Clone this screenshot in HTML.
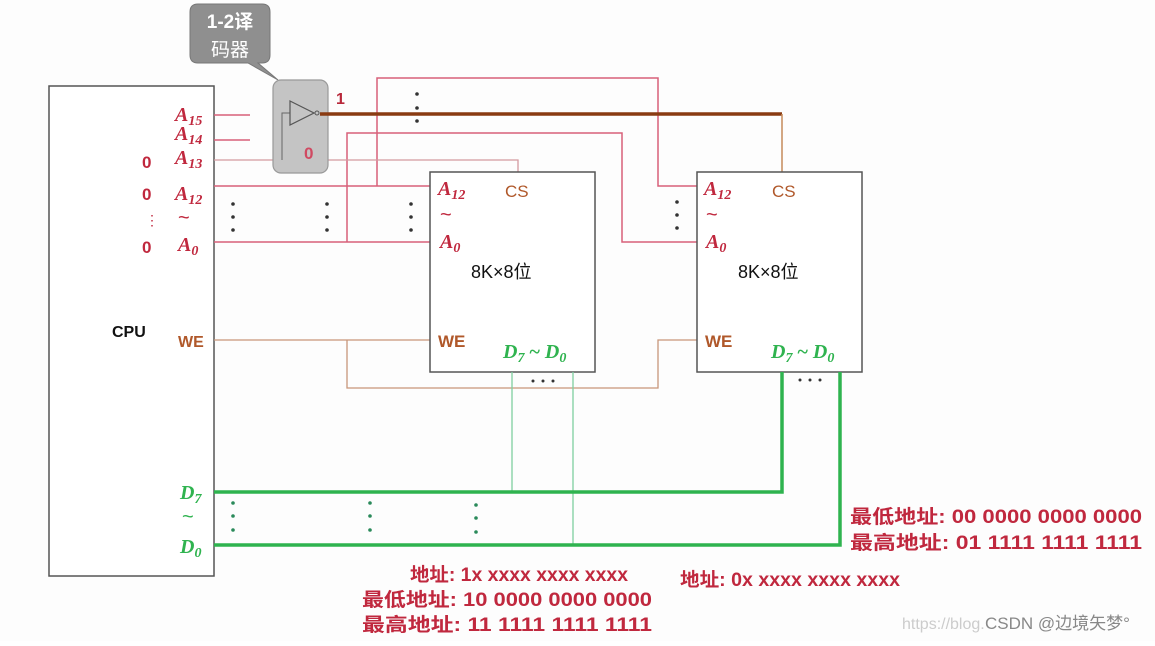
<!DOCTYPE html>
<html><head><meta charset="utf-8"><style>
body{margin:0;background:#fff;}
svg text{font-family:"Liberation Sans","Noto Sans CJK SC",sans-serif;}
.it{font-family:"Liberation Serif","Noto Serif CJK SC",serif;font-style:italic;font-weight:bold;}
</style></head><body>
<svg width="1155" height="641" viewBox="0 0 1155 641" xmlns="http://www.w3.org/2000/svg">
<rect width="1155" height="641" fill="#fdfdfd"/>
<!-- callout -->
<path d="M198 4 H262 Q270 4 270 12 V55 Q270 63 262 63 H258 L278 80 L248 63 H198 Q190 63 190 55 V12 Q190 4 198 4 Z" fill="#8f8f8f" stroke="#777" stroke-width="1"/>
<text x="230" y="28" font-size="19" font-weight="bold" fill="#fff" text-anchor="middle">1-2译</text>
<text x="230" y="56" font-size="19" fill="#fff" text-anchor="middle">码器</text>
<!-- CPU -->
<rect x="49" y="86" width="165" height="490" fill="#fff" stroke="#555" stroke-width="1.5"/>
<text x="112" y="337" font-size="16" font-weight="bold" fill="#111">CPU</text>
<!-- pink address lines -->
<g stroke="#d8607a" stroke-width="1.5" fill="none">
<path d="M214 115 H250"/><path d="M214 140 H250"/>
<path d="M214 186 H430"/><path d="M214 242 H430"/>
<path d="M377 186 V78 H658 V186 H697"/>
<path d="M347 242 V133 H622 V242 H697"/>
</g>
<path d="M214 160 H518 V172" stroke="#d49aa0" stroke-width="1.3" fill="none"/>
<!-- decoder -->
<rect x="273" y="80" width="55" height="93" rx="8" fill="#c4c4c4" stroke="#999" stroke-width="1.2"/>
<path d="M282 160 V113 H290" stroke="#666" stroke-width="1" fill="none"/>
<path d="M290 101 L314 113 L290 125 Z" fill="none" stroke="#555" stroke-width="1.2"/>
<circle cx="317" cy="113" r="2" fill="none" stroke="#555"/>
<text x="336" y="104" font-size="16" font-weight="bold" fill="#b8283a">1</text>
<text x="304" y="159" font-size="17" font-weight="bold" fill="#d04a62">0</text>
<!-- thick brown -->
<path d="M320 114 H782" stroke="#8a3b12" stroke-width="3.5"/>
<path d="M782 114 V172" stroke="#c58a5a" stroke-width="1.5"/>
<!-- WE lines -->
<g stroke="#c8967a" stroke-width="1.3" fill="none">
<path d="M214 340 H430"/>
<path d="M347 340 V388 H658 V340 H697"/>
</g>
<!-- chips -->
<rect x="430" y="172" width="165" height="200" fill="#fff" stroke="#555" stroke-width="1.5"/>
<rect x="697" y="172" width="165" height="200" fill="#fff" stroke="#555" stroke-width="1.5"/>
<!-- green -->
<g stroke="#7fcfa0" stroke-width="1.3"><path d="M512 372 V492"/><path d="M573 372 V545"/></g>
<g stroke="#2fb34f" stroke-width="3.5" fill="none">
<path d="M214 492 H782 V372"/><path d="M214 545 H840 V372"/>
</g>
<!-- dots -->
<g fill="#333">
<circle cx="417" cy="94" r="1.8"/><circle cx="417" cy="108" r="1.8"/><circle cx="417" cy="121" r="1.8"/>
<circle cx="233" cy="204" r="1.8"/><circle cx="233" cy="217" r="1.8"/><circle cx="233" cy="230" r="1.8"/>
<circle cx="327" cy="204" r="1.8"/><circle cx="327" cy="217" r="1.8"/><circle cx="327" cy="230" r="1.8"/>
<circle cx="411" cy="204" r="1.8"/><circle cx="411" cy="217" r="1.8"/><circle cx="411" cy="230" r="1.8"/>
<circle cx="677" cy="202" r="1.8"/><circle cx="677" cy="215" r="1.8"/><circle cx="677" cy="228" r="1.8"/>
<circle cx="533" cy="381" r="1.5"/><circle cx="543" cy="381" r="1.5"/><circle cx="553" cy="381" r="1.5"/>
<circle cx="800" cy="380" r="1.5"/><circle cx="810" cy="380" r="1.5"/><circle cx="820" cy="380" r="1.5"/>
</g>
<g fill="#2a8a5a">
<circle cx="233" cy="503" r="1.8"/><circle cx="233" cy="516" r="1.8"/><circle cx="233" cy="530" r="1.8"/>
<circle cx="370" cy="503" r="1.8"/><circle cx="370" cy="516" r="1.8"/><circle cx="370" cy="530" r="1.8"/>
<circle cx="476" cy="505" r="1.8"/><circle cx="476" cy="518" r="1.8"/><circle cx="476" cy="532" r="1.8"/>
</g>
<!-- CPU pin labels -->
<g fill="#c0283e">
<text class="it" x="175" y="121" font-size="20">A<tspan font-size="14" dy="4">15</tspan></text>
<text class="it" x="175" y="140" font-size="20">A<tspan font-size="14" dy="4">14</tspan></text>
<text class="it" x="175" y="164" font-size="20">A<tspan font-size="14" dy="4">13</tspan></text>
<text class="it" x="175" y="200" font-size="20">A<tspan font-size="14" dy="4">12</tspan></text>
<text x="178" y="224" font-size="20">~</text>
<text class="it" x="178" y="251" font-size="20">A<tspan font-size="14" dy="4">0</tspan></text>
<text x="142" y="168" font-size="17" font-weight="bold">0</text>
<text x="142" y="200" font-size="17" font-weight="bold">0</text>
<text x="145" y="225" font-size="14">⋮</text>
<text x="142" y="253" font-size="17" font-weight="bold">0</text>
</g>
<text x="178" y="347" font-size="16" font-weight="bold" fill="#b0582a">WE</text>
<g fill="#2fb34f">
<text class="it" x="180" y="499" font-size="20">D<tspan font-size="14" dy="4">7</tspan></text>
<text x="182" y="523" font-size="20">~</text>
<text class="it" x="180" y="553" font-size="20">D<tspan font-size="14" dy="4">0</tspan></text>
</g>
<!-- chip labels -->
<g>
<text class="it" x="438" y="195" font-size="20" fill="#c0283e">A<tspan font-size="14" dy="4">12</tspan></text>
<text x="440" y="221" font-size="20" fill="#c0283e">~</text>
<text class="it" x="440" y="248" font-size="20" fill="#c0283e">A<tspan font-size="14" dy="4">0</tspan></text>
<text x="505" y="197" font-size="17" fill="#b0582a">CS</text>
<text x="471" y="278" font-size="18" fill="#111">8K×8位</text>
<text x="438" y="347" font-size="17" font-weight="bold" fill="#b0582a">WE</text>
<text class="it" x="503" y="358" font-size="20" fill="#2fb34f">D<tspan font-size="14" dy="4">7</tspan><tspan dy="-4" font-style="normal"> ~ </tspan>D<tspan font-size="14" dy="4">0</tspan></text>

<text class="it" x="704" y="195" font-size="20" fill="#c0283e">A<tspan font-size="14" dy="4">12</tspan></text>
<text x="706" y="221" font-size="20" fill="#c0283e">~</text>
<text class="it" x="706" y="248" font-size="20" fill="#c0283e">A<tspan font-size="14" dy="4">0</tspan></text>
<text x="772" y="197" font-size="17" fill="#b0582a">CS</text>
<text x="738" y="278" font-size="18" fill="#111">8K×8位</text>
<text x="705" y="347" font-size="17" font-weight="bold" fill="#b0582a">WE</text>
<text class="it" x="771" y="358" font-size="20" fill="#2fb34f">D<tspan font-size="14" dy="4">7</tspan><tspan dy="-4" font-style="normal"> ~ </tspan>D<tspan font-size="14" dy="4">0</tspan></text>
</g>
<!-- address text -->
<g fill="#c0283e" font-size="19" font-weight="bold">
<text x="410" y="581" textLength="218" lengthAdjust="spacingAndGlyphs">地址: 1x xxxx xxxx xxxx</text>
<text x="362" y="606" textLength="290" lengthAdjust="spacingAndGlyphs">最低地址: 10 0000 0000 0000</text>
<text x="362" y="631" textLength="290" lengthAdjust="spacingAndGlyphs">最高地址: 11 1111 1111 1111</text>
<text x="680" y="586" textLength="220" lengthAdjust="spacingAndGlyphs">地址: 0x xxxx xxxx xxxx</text>
<text x="850" y="523" textLength="292" lengthAdjust="spacingAndGlyphs">最低地址: 00 0000 0000 0000</text>
<text x="850" y="549" textLength="292" lengthAdjust="spacingAndGlyphs">最高地址: 01 1111 1111 1111</text>
</g>
<text x="902" y="629" font-size="16" fill="#ccc">https://blog.</text>
<text x="985" y="629" font-size="17" fill="#888">CSDN @边境矢梦°</text>
</svg>
</body></html>
